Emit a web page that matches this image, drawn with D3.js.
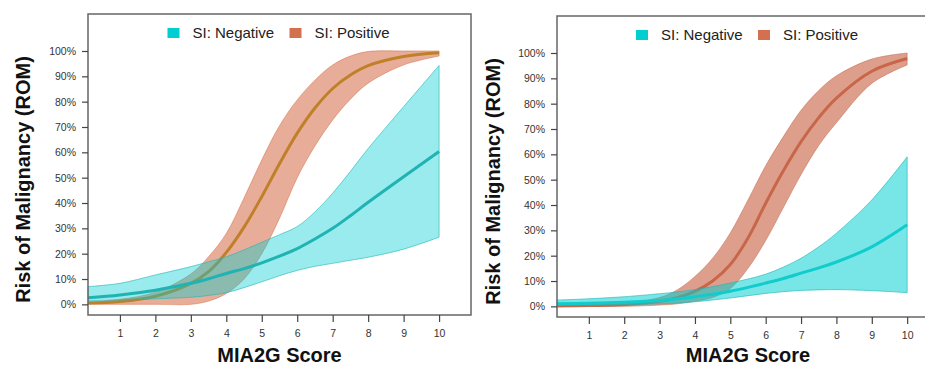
<!DOCTYPE html>
<html lang="en">
  <head>
    <meta charset="utf-8">
    <title>ROM vs MIA2G Score</title>
    <script src="https://cdn.jsdelivr.net/npm/d3@7"></script>
<style>
body { margin: 0; background: #fff; }
svg { font-family: Arial, "Liberation Sans", sans-serif; }
</style>
  </head>
  <body>
    <script>
      // score grid shared by both panels
      var scores = [0.1, 1, 2, 3, 3.5, 4, 4.5, 5, 5.5, 6, 6.5, 7, 7.5, 8, 9, 10];
      var xTicks = [1, 2, 3, 4, 5, 6, 7, 8, 9, 10];
      var yTicks = [0, 10, 20, 30, 40, 50, 60, 70, 80, 90, 100];
      var legendLabels = ["SI: Negative", "SI: Positive"];

      // left panel (%)
      var leftNegMean  = [2.6, 3.7, 5.6, 8.3, 10.1, 12.2, 14.1, 16.4, 19, 22, 25.8, 30, 35, 40.3, 50.4, 60.3];
      var leftNegUpper = [7, 8.3, 11.6, 14.9, 16.8, 18.8, 21.5, 24.5, 27.5, 30.7, 36.5, 43.9, 52.5, 61.5, 78, 94.3];
      var leftNegLower = [1.5, 1.7, 2.2, 2.8, 3.5, 4.6, 6.6, 8.9, 11.3, 13.4, 15, 16.2, 17.4, 18.6, 21.8, 26.5];
      var leftPosMean  = [0.5, 1.1, 3.2, 8.3, 12.9, 20.5, 30.5, 42.5, 55.5, 67.6, 77.5, 85.2, 90.5, 94.2, 97.8, 99.3];
      var leftPosUpper = [1, 2, 4.8, 12, 18.8, 28, 42, 57, 70.5, 80.7, 88.5, 94.5, 98, 99.8, 100, 100];
      var leftPosLower = [0, 0, 0, 0, 1.3, 4.3, 10, 20, 34, 50, 62.5, 72.8, 81, 87.3, 94.5, 98];

      // right panel (%)
      var rightNegMean  = [1, 1.2, 1.6, 2.3, 3, 3.8, 4.8, 6, 7.5, 9.2, 11, 13.1, 15.2, 17.5, 23.5, 32.2];
      var rightNegUpper = [2.5, 3, 3.8, 5, 5.7, 6.6, 7.8, 9.2, 10.8, 12.7, 15.5, 19, 23.5, 28.9, 42, 59];
      var rightNegLower = [0.3, 0.4, 0.6, 1, 1.3, 1.8, 2.5, 3.3, 4.2, 5.1, 5.8, 6.3, 6.5, 6.6, 6.2, 5.4];
      var rightPosMean  = [0.1, 0.3, 0.7, 2, 3.4, 5.9, 10, 16.5, 27, 40.7, 53.5, 65, 74.5, 82.2, 92.8, 97.8];
      var rightPosUpper = [0.3, 0.6, 1.3, 3.5, 6.5, 11.8, 19, 29, 42, 55.5, 67, 77.4, 85.2, 91, 97.6, 100];
      var rightPosLower = [0, 0, 0, 0.5, 1, 2, 3.5, 7, 15, 26, 39, 52, 63.5, 72.5, 88, 95.3];

      var svg = d3.select("body").append("svg")
        .attr("width", 925)
        .attr("height", 365);

      function drawPanel(p) {
        var x = d3.scaleLinear().domain([0.1, 10.9]).range([p.left, p.right]);
        var y = d3.scaleLinear().domain([-4.2, 114.6]).range([p.bottom, p.top]);
        var g = svg.append("g");

        function rows(lo, hi) {
          return scores.map(function(s, i) { return { s: s, lo: lo[i], hi: hi[i] }; });
        }
        var curve = d3.curveCatmullRom.alpha(0.5);
        var area = d3.area()
          .x(function(d) { return x(d.s); })
          .y0(function(d) { return y(d.lo); })
          .y1(function(d) { return y(d.hi); })
          .curve(curve);
        var line = d3.line()
          .x(function(d) { return x(d.s); })
          .y(function(d) { return y(d.hi); })
          .curve(curve);

        // positive band + line first, negative on top
        g.append("path")
          .datum(rows(p.posLower, p.posUpper))
          .attr("d", area)
          .attr("fill", p.posFill)
          .attr("fill-opacity", p.posAlpha)
          .attr("stroke", p.posFill)
          .attr("stroke-opacity", 0.5)
          .attr("stroke-width", 1);
        g.append("path")
          .datum(rows(p.posMean, p.posMean))
          .attr("d", line)
          .attr("fill", "none")
          .attr("stroke", p.posLine)
          .attr("stroke-width", 3);
        g.append("path")
          .datum(rows(p.negLower, p.negUpper))
          .attr("d", area)
          .attr("fill", "#00ced1")
          .attr("fill-opacity", p.negAlpha)
          .attr("stroke", "#1fb5b5")
          .attr("stroke-opacity", 0.6)
          .attr("stroke-width", 1);
        g.append("path")
          .datum(rows(p.negMean, p.negMean))
          .attr("d", line)
          .attr("fill", "none")
          .attr("stroke", p.negLine)
          .attr("stroke-width", 3);

        // frame
        g.append("rect")
          .attr("x", p.left)
          .attr("y", p.top)
          .attr("width", p.right - p.left)
          .attr("height", p.bottom - p.top)
          .attr("fill", "none")
          .attr("stroke", "#666")
          .attr("stroke-width", 1.5);

        var xAxis = g.append("g")
          .attr("transform", "translate(0," + p.bottom + ")")
          .call(d3.axisBottom(x).tickValues(xTicks).tickSize(7).tickPadding(8).tickSizeOuter(0));
        var yAxis = g.append("g")
          .attr("transform", "translate(" + p.left + ",0)")
          .call(d3.axisLeft(y).tickValues(yTicks).tickSize(6).tickPadding(6).tickSizeOuter(0)
            .tickFormat(function(d) { return d + "%"; }));
        [xAxis, yAxis].forEach(function(a) {
          a.select(".domain").remove();
          a.selectAll("line").attr("stroke", "#444").attr("stroke-width", 1.2);
          a.selectAll("text")
            .attr("fill", "#333")
            .style("font-size", "10.5px")
            .style("font-family", "Arial, 'Liberation Sans', sans-serif");
        });

        // legend
        var cx = (p.left + p.right) / 2;
        var lg = g.append("g").attr("transform", "translate(" + (cx - 112) + "," + (p.top + 14) + ")");
        var legendColors = ["#00ced1", "#d2704f"];
        var offsets = [0, 122];
        legendLabels.forEach(function(lbl, i) {
          lg.append("rect")
            .attr("x", offsets[i])
            .attr("y", 0)
            .attr("width", 12)
            .attr("height", 10)
            .attr("fill", legendColors[i]);
          lg.append("text")
            .attr("x", offsets[i] + 25)
            .attr("y", 10)
            .attr("font-size", "15px")
            .attr("fill", "#222")
            .text(lbl);
        });

        // titles
        g.append("text")
          .attr("transform", "translate(" + p.ytitleX + "," + ((p.top + p.bottom) / 2 + 15) + ") rotate(-90)")
          .attr("text-anchor", "middle")
          .attr("font-size", "20px")
          .attr("font-weight", "bold")
          .attr("fill", "#111")
          .text("Risk of Malignancy (ROM)");
        g.append("text")
          .attr("x", cx)
          .attr("y", 362)
          .attr("text-anchor", "middle")
          .attr("font-size", "20px")
          .attr("font-weight", "bold")
          .attr("fill", "#111")
          .text("MIA2G Score");
      }

      drawPanel({
        left: 88, right: 471, top: 14, bottom: 315, ytitleX: 30,
        negMean: leftNegMean, negUpper: leftNegUpper, negLower: leftNegLower,
        posMean: leftPosMean, posUpper: leftPosUpper, posLower: leftPosLower,
        negAlpha: 0.4, negLine: "#1fb3b3",
        posFill: "#d56a44", posAlpha: 0.55, posLine: "#c0802a"
      });
      drawPanel({
        left: 557, right: 939, top: 16, bottom: 317, ytitleX: 500,
        negMean: rightNegMean, negUpper: rightNegUpper, negLower: rightNegLower,
        posMean: rightPosMean, posUpper: rightPosUpper, posLower: rightPosLower,
        negAlpha: 0.53, negLine: "#10cccc",
        posFill: "#c86446", posAlpha: 0.62, posLine: "#c8664a"
      });
    </script>
  </body>
</html>
